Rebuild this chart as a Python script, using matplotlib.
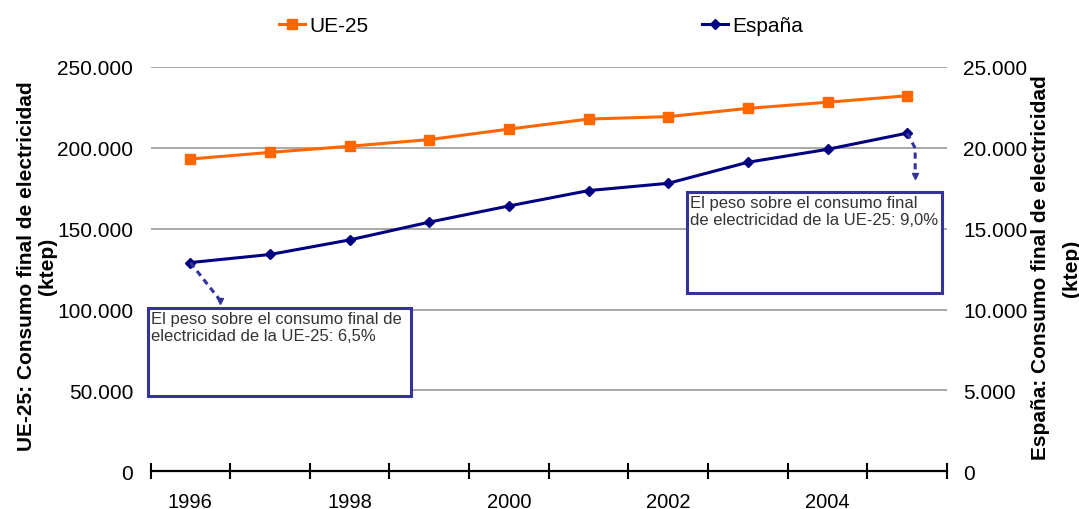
import matplotlib
matplotlib.use("Agg")
import matplotlib.pyplot as plt
import matplotlib.transforms as mtransforms
from matplotlib.patches import Rectangle
from matplotlib.ticker import FixedLocator, FuncFormatter

plt.rcParams["font.family"] = ["Liberation Sans", "DejaVu Sans"]

# Final electricity consumption (ktep)
years = [1996, 1997, 1998, 1999, 2000, 2001, 2002, 2003, 2004, 2005]
ue25 = [193000, 197100, 200900, 205000, 211500, 217700, 219200, 224300, 228100, 232100]
espana = [12900, 13400, 14300, 15400, 16400, 17350, 17800, 19100, 19900, 20900]

year_labels = ["1996", "", "1998", "", "2000", "", "2002", "", "2004", ""]
left_ticks = [0, 50000, 100000, 150000, 200000, 250000]
right_ticks = [0, 5000, 10000, 15000, 20000, 25000]

left_title = ["UE-25: Consumo final de electricidad", "(ktep)"]
right_title = ["España: Consumo final de electricidad", "(ktep)"]

note_1996 = "El peso sobre el consumo final de\nelectricidad de la UE-25: 6,5%"
note_2005 = "El peso sobre el consumo final\nde electricidad de la UE-25: 9,0%"

ORANGE = "#FF6600"
NAVY = "#000080"
BOX = "#333399"

W, H = 1079, 510
fig = plt.figure(figsize=(W / 100, H / 100), dpi=100)
ax = fig.add_axes([150.5 / W, 37.7 / H, 796.5 / W, 404.5 / H])
ax2 = ax.twinx()

x = list(range(len(years)))

(l_ue,) = ax.plot(x, ue25, color=ORANGE, lw=2.2, marker="s", ms=6.5,
                  label="UE-25", zorder=3)
(l_es,) = ax2.plot(x, espana, color=NAVY, lw=2.2, marker="D", ms=5,
                   label="España", zorder=3)

# axes ranges
ax.set_xlim(-0.5, len(years) - 0.5)
ax.set_ylim(0, 250000)
ax2.set_ylim(0, 25000)

fmt = FuncFormatter(lambda v, p: f"{int(round(v)):,}".replace(",", "."))

ax.yaxis.set_major_locator(FixedLocator(left_ticks))
ax.yaxis.set_major_formatter(fmt)
ax2.yaxis.set_major_locator(FixedLocator(right_ticks))
ax2.yaxis.set_major_formatter(fmt)

ax.set_xticks(x)
ax.set_xticklabels(year_labels)
ax.set_xticks([i - 0.5 for i in range(len(years) + 1)], minor=True)
ax.tick_params(axis="x", which="major", length=0, pad=15, labelsize=14.5)
ax.tick_params(axis="x", which="minor", direction="inout", length=12,
               width=1.5, color="black")
ax.tick_params(axis="y", length=0, pad=12.5, labelsize=15)
ax2.tick_params(axis="y", length=0, pad=11.5, labelsize=15)

for a in (ax, ax2):
    for side in ("top", "left", "right", "bottom"):
        a.spines[side].set_visible(False)
ax.spines["bottom"].set_visible(True)
ax.spines["bottom"].set_linewidth(1.6)
ax.spines["bottom"].set_color("black")
ax.spines["bottom"].set_zorder(4)

ax.yaxis.grid(True, color="#999999", lw=1.2)
ax.set_axisbelow(True)

# axis titles, one text per line
for title, xs, yc in ((left_title, (27, 48), 266), (right_title, (1040, 1071), 268)):
    for line, xp in zip(title, xs):
        fig.text(xp / W, 1 - yc / H, line, rotation=90, ha="center",
                 va="center", fontsize=15, fontweight="bold")

# legends
for handle, xpos in ((l_ue, 279), (l_es, 702)):
    fig.legend(handles=[handle], loc="center left",
               bbox_to_anchor=(xpos / W, 1 - 27 / H), frameon=False,
               borderpad=0, borderaxespad=0, handlelength=1.25,
               handletextpad=0.2, fontsize=15)

# note boxes
boxes = [
    ((-0.0031, 0.1862), 0.3302, 0.2175, (0.001, 0.397), note_1996),
    ((0.6736, 0.4408), 0.3201, 0.2497, (0.6773, 0.683), note_2005),
]
for (bx, by), bw, bh, (tx, ty), txt in boxes:
    ax2.add_patch(Rectangle((bx, by), bw, bh, transform=ax2.transAxes,
                            facecolor="white", edgecolor=BOX, lw=2.2,
                            zorder=5, clip_on=False))
    ax2.text(tx, ty, txt, transform=ax2.transAxes, ha="left", va="top",
             fontsize=12, color="#333333", linespacing=1.15, zorder=6)

# dashed leader lines, drawn in inches relative to their data point
leaders = [
    (0, espana[0], [0, 0.30], [0, -0.38]),
    (len(years) - 1, espana[-1], [0, 0.08, 0.08], [0, -0.15, -0.43]),
]
for px, py, dx, dy in leaders:
    tr = fig.dpi_scale_trans + mtransforms.ScaledTranslation(px, py, ax2.transData)
    ax2.plot(dx, dy, transform=tr, color=BOX, lw=2.2, ls=(0, (2, 1.5)),
             marker="v", markevery=[len(dx) - 1], ms=5, zorder=4,
             clip_on=False)

fig.savefig("out.png", dpi=100)
